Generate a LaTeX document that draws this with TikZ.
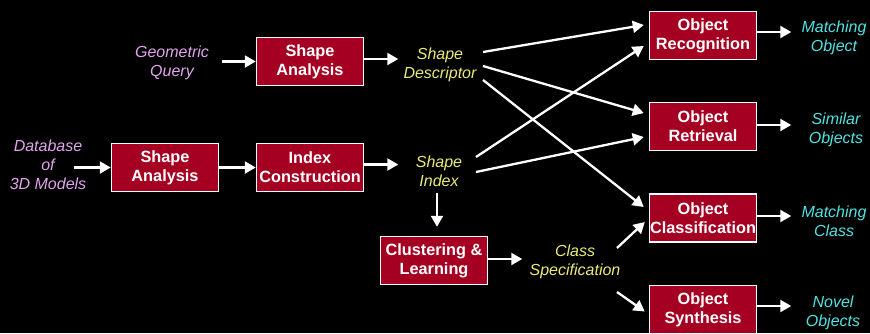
\documentclass[tikz,border=0pt]{standalone}
\usepackage{fontspec}
\setmainfont{Liberation Sans}
\usetikzlibrary{arrows.meta}
\definecolor{boxred}{RGB}{165,0,33}
\definecolor{pinktxt}{RGB}{226,164,236}
\definecolor{yellowtxt}{RGB}{234,234,120}
\definecolor{cyantxt}{RGB}{80,226,226}
\begin{document}
\begin{tikzpicture}[x=1pt,y=-1pt,
  box/.style={draw=white, line width=1.5pt, fill=boxred, text=white,
    font=\fontsize{16.3}{19}\selectfont\bfseries, align=center,
    minimum width=107pt, minimum height=48pt, inner sep=0pt},
  arr/.style={draw=white, line width=2.3pt, -{Triangle[length=11pt,width=12pt]}},
  lbl/.style={font=\fontsize{16}{19}\selectfont\itshape, align=center, inner sep=0pt},
  inlbl/.style={lbl, text=pinktxt},
  midlbl/.style={lbl, text=yellowtxt},
  outlbl/.style={lbl, text=cyantxt}]
\fill[black] (0,0) rectangle (870,333);
\useasboundingbox (0,0) rectangle (870,333);
% boxes
\node[box] (sa1) at (310,61.5) {Shape\\Analysis};
\node[box] (sa2) at (165,167.5) {Shape\\Analysis};
\node[box] (ic)  at (310,167.5) {Index\\Construction};
\node[box] (cl)  at (434,260.5) {Clustering \&\\Learning};
\node[box] (or)  at (703,35.5) {Object\\Recognition};
\node[box] (ort) at (703,126.5) {Object\\Retrieval};
\node[box] (oc)  at (703,218) {Object\\Classification};
\node[box] (os)  at (703,309.5) {Object\\Synthesis};
% labels
\node[inlbl] (gq) at (172,63) {Geometric\\Query};
\node[inlbl] (db) at (48,165) {Database\\of\\3D Models};
\node[midlbl] (sd) at (440,64.5) {Shape\\Descriptor};
\node[midlbl] (si) at (439,171) {Shape\\Index};
\node[midlbl] (cs) at (575,262) {Class\\Specification};
\node[outlbl] (mo) at (834,38) {Matching\\Object};
\node[outlbl] (so) at (836,130) {Similar\\Objects};
\node[outlbl] (mc) at (834,221) {Matching\\Class};
\node[outlbl] (no) at (833,313) {Novel\\Objects};
% straight arrows
\draw[arr] ([xshift=-34pt]sa1.west) -- (sa1.west);
\draw[arr] ([yshift=2.5pt]sa1.east) -- ([shift={(34,-2.5)}]sa1.east);
\draw[arr] ([xshift=-37pt]sa2.west) -- (sa2.west);
\draw[arr] (sa2.east) -- (ic.west);
\draw[arr] ([yshift=3pt]ic.east) -- ([shift={(34,-3)}]ic.east);
\draw[arr] ([shift={(3,-43)}]cl.north) -- ([shift={(3,-9)}]cl.north);
\draw[arr] ([yshift=1.5pt]cl.east) -- ([shift={(34,-1.5)}]cl.east);
% crossing arrows
\draw[arr] ([shift={(43,-12.5)}]sd.center) -- ([shift={(-5,-10.5)}]or.west);
\draw[arr] ([shift={(43,1.5)}]sd.center) -- ([shift={(-5,-13.5)}]ort.west);
\draw[arr] ([shift={(43,15.5)}]sd.center) -- ([shift={(-5,-11)}]oc.west);
\draw[arr] ([shift={(37,-14)}]si.center) -- ([shift={(-5,10.5)}]or.west);
\draw[arr] ([shift={(37,1)}]si.center) -- ([shift={(-5,10.5)}]ort.west);
\draw[arr] ([shift={(42,-14)}]cs.center) -- ([shift={(-4,4)}]oc.west);
\draw[arr] ([shift={(42,30)}]cs.center) -- ([shift={(-4,2)}]os.west);
% output arrows
\draw[arr] ([yshift=3.5pt]or.east) -- ([shift={(34,-3.5)}]or.east);
\draw[arr] ([yshift=1.5pt]ort.east) -- ([shift={(34,-1.5)}]ort.east);
\draw[arr] ([yshift=2pt]oc.east) -- ([shift={(34,-2)}]oc.east);
\draw[arr] ([yshift=3.5pt]os.east) -- ([shift={(34,-3.5)}]os.east);
\end{tikzpicture}
\end{document}
